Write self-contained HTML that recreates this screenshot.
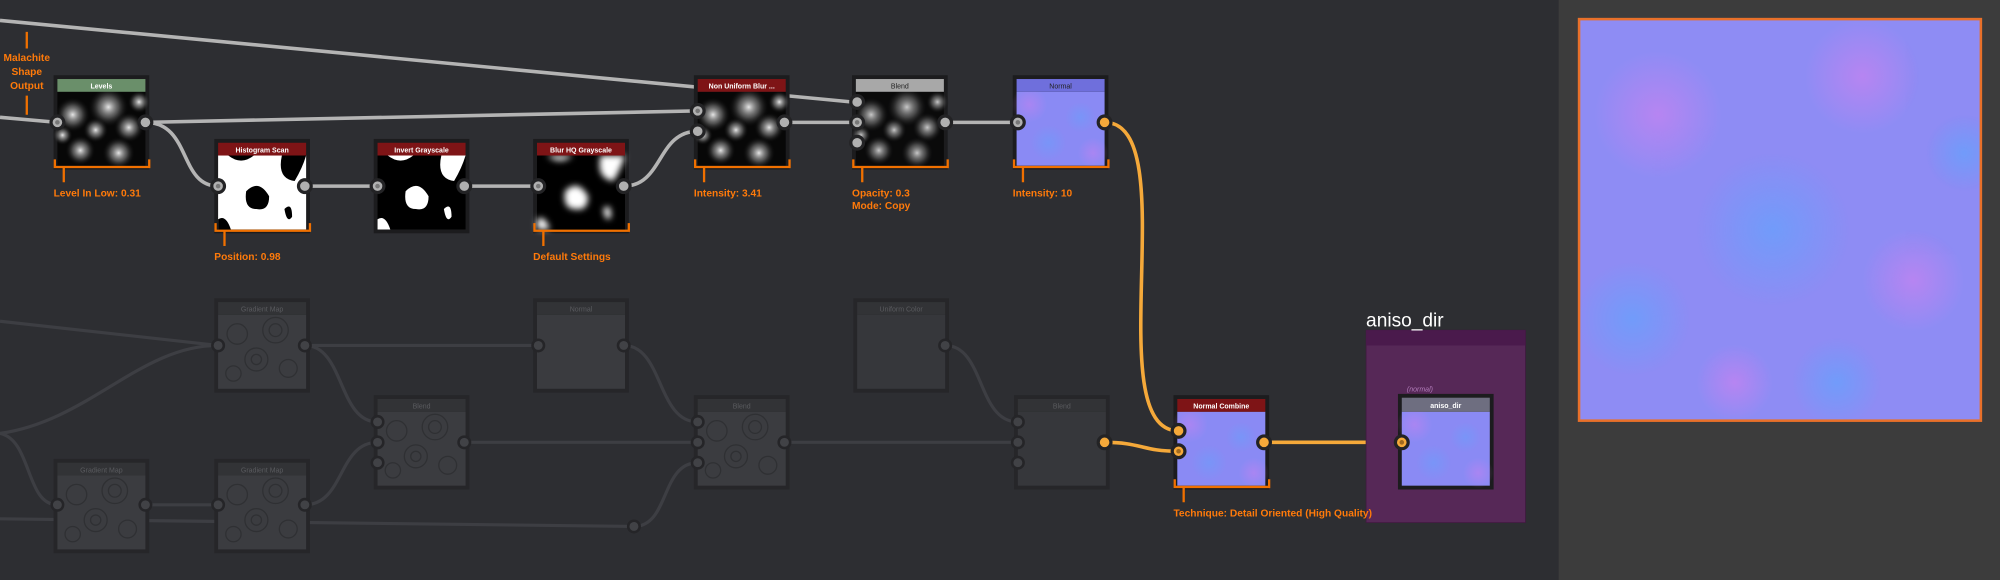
<!DOCTYPE html>
<html><head><meta charset="utf-8"><style>
html,body{margin:0;padding:0;background:#2d2e32;}
svg{display:block;}
text{font-family:"Liberation Sans","DejaVu Sans",sans-serif;}
</style></head><body>
<svg width="2000" height="580" viewBox="0 0 1568 455" preserveAspectRatio="none" xmlns="http://www.w3.org/2000/svg">
<defs>
<radialGradient id="wg"><stop offset="0" stop-color="#fff" stop-opacity="0.9"/><stop offset="0.5" stop-color="#999" stop-opacity="0.5"/><stop offset="1" stop-color="#000" stop-opacity="0"/></radialGradient>
<radialGradient id="pk"><stop offset="0" stop-color="#d77ff0"/><stop offset="1" stop-color="#d77ff0" stop-opacity="0"/></radialGradient>
<radialGradient id="bl"><stop offset="0" stop-color="#5aa8ff"/><stop offset="1" stop-color="#5aa8ff" stop-opacity="0"/></radialGradient>
<clipPath id="pc"><rect x="1238" y="15" width="315" height="315"/></clipPath>
<filter id="blur2"><feGaussianBlur stdDeviation="2.5"/></filter>
<g id="blobs">
<rect width="69" height="58" fill="#070707"/>
<circle cx="12" cy="18" r="14" fill="url(#wg)"/><circle cx="40" cy="12" r="16" fill="url(#wg)"/>
<circle cx="56" cy="28" r="12" fill="url(#wg)"/><circle cx="30" cy="30" r="10" fill="url(#wg)"/>
<circle cx="18" cy="46" r="12" fill="url(#wg)"/><circle cx="48" cy="48" r="13" fill="url(#wg)"/>
<circle cx="64" cy="8" r="9" fill="url(#wg)"/><circle cx="4" cy="34" r="8" fill="url(#wg)"/>
</g>
<g id="hist">
<rect width="69" height="58" fill="#fff"/>
<path d="M8,0 q10,8 20,0z M50,0 q-4,18 10,20 q6,-10 9,-20z M22,28 q10,-10 18,4 q0,12 -10,10 q-10,0 -8,-14z M52,42 q6,-6 6,6 q-4,6 -6,-6z M0,50 q6,-4 10,8 h-10z" fill="#000"/>
</g>
<g id="inv">
<rect width="69" height="58" fill="#000"/>
<path d="M8,0 q10,8 20,0z M50,0 q-4,18 10,20 q6,-10 9,-20z M22,28 q10,-10 18,4 q0,12 -10,10 q-10,0 -8,-14z M52,42 q6,-6 6,6 q-4,6 -6,-6z M0,50 q6,-4 10,8 h-10z" fill="#fff"/>
</g>
<g id="blurhq">
<rect width="69" height="58" fill="#000"/>
<path d="M8,0 q10,8 20,0z M50,0 q-4,18 10,20 q6,-10 9,-20z M22,28 q10,-10 18,4 q0,12 -10,10 q-10,0 -8,-14z M52,42 q6,-6 6,6 q-4,6 -6,-6z M0,50 q6,-4 10,8 h-10z" fill="#fff" filter="url(#blur2)"/>
</g>
<g id="nrm">
<rect width="69" height="58" fill="#8a8af4"/>
<circle cx="10" cy="10" r="14" fill="url(#pk)" opacity="0.4"/><circle cx="50" cy="20" r="12" fill="url(#bl)" opacity="0.35"/>
<circle cx="25" cy="40" r="14" fill="url(#bl)" opacity="0.35"/><circle cx="60" cy="48" r="12" fill="url(#pk)" opacity="0.4"/>
</g>
<g id="grt">
<rect width="69" height="58" fill="#3b3c40"/>
<g fill="none" stroke="#2f3033" stroke-width="1">
<circle cx="15" cy="15" r="8"/><circle cx="45" cy="12" r="10"/><circle cx="30" cy="35" r="9"/><circle cx="55" cy="42" r="7"/><circle cx="12" cy="46" r="6"/><circle cx="45" cy="12" r="5"/><circle cx="30" cy="35" r="4"/>
</g>
</g>
</defs>

<rect width="1568" height="455" fill="#2d2e32"/>
<rect x="1222" y="0" width="346" height="455" fill="#3c3c3c"/>

<g fill="none" stroke="#3d3e43" stroke-width="2.5">
<path d="M0,252 L171,271"/>
<path d="M239,271 L422,271"/>
<path d="M0,340 C70,330 110,271 171,271"/>
<path d="M0,340 C25,345 20,396 45,396"/>
<path d="M0,407 L497,413"/>
<path d="M114,396 L171,396"/>
<path d="M239,271 C270,271 265,331 296,331"/>
<path d="M239,396 C270,396 265,347 296,347"/>
<path d="M364,347 L547,347"/>
<path d="M489,271 C520,271 515,331 547,331"/>
<path d="M497,413 C525,413 518,363 547,363"/>
<path d="M615,347 L798,347"/>
<path d="M741,271 C772,271 766,331 798,331"/>
</g>

<g fill="none" stroke="#b4b4b4" stroke-width="2.8">
<path d="M0,16 L668,80"/>
<path d="M0,92 L45,96"/>
<path d="M114,96 L547,87"/>
<path d="M114,96 C150,96 140,146 171,146"/>
<path d="M239,146 L296,146"/>
<path d="M364,146 L422,146"/>
<path d="M489,146 C520,146 515,103 547,103"/>
<path d="M615,96 L672,96"/>
<path d="M741,96 L798,96"/>
</g>
<g fill="none" stroke="#f5a93a" stroke-width="2.8">
<path d="M866,96 C930,96 860,338 924,338"/>
<path d="M866,347 C895,347 895,354 924,354"/>
<path d="M991,347 L1099,347"/>
</g>

<rect x="1071" y="259" width="125" height="151" fill="#562857" stroke="#3d1a3e" stroke-width="0.6"/>
<rect x="1071" y="259" width="125" height="12" fill="#4a1a4c"/>
<text x="1071" y="256" font-size="15" fill="#fff" font-family="DejaVu Sans,sans-serif">aniso_dir</text>
<text x="1103" y="307" font-size="5.5" fill="#b07ab8" font-style="italic">(normal)</text>

<g>
<rect x="42" y="59" width="75" height="74" fill="#1c1c1e"/>
<use href="#blobs" x="45" y="72"/><rect x="45" y="62" width="69" height="10" fill="#6a8f6a"/>
<text x="79.5" y="69.5" font-size="5.5" fill="#fff" text-anchor="middle" font-weight="bold">Levels</text>

<rect x="168" y="109" width="75" height="74" fill="#1c1c1e"/>
<use href="#hist" x="171" y="122"/><rect x="171" y="112" width="69" height="10" fill="#7e1416"/>
<text x="205.5" y="119.5" font-size="5.5" fill="#fff" text-anchor="middle" font-weight="bold">Histogram Scan</text>

<rect x="293" y="109" width="75" height="74" fill="#1c1c1e"/>
<use href="#inv" x="296" y="122"/><rect x="296" y="112" width="69" height="10" fill="#7e1416"/>
<text x="330.5" y="119.5" font-size="5.5" fill="#fff" text-anchor="middle" font-weight="bold">Invert Grayscale</text>

<rect x="418" y="109" width="75" height="74" fill="#1c1c1e"/>
<use href="#blurhq" x="421" y="122"/><rect x="421" y="112" width="69" height="10" fill="#7e1416"/>
<text x="455.5" y="119.5" font-size="5.5" fill="#fff" text-anchor="middle" font-weight="bold">Blur HQ Grayscale</text>

<rect x="544" y="59" width="75" height="74" fill="#1c1c1e"/>
<use href="#blobs" x="547" y="72"/><rect x="547" y="62" width="69" height="10" fill="#7e1416"/>
<text x="581.5" y="69.5" font-size="5.5" fill="#fff" text-anchor="middle" font-weight="bold">Non Uniform  Blur ...</text>

<rect x="668" y="59" width="75" height="74" fill="#1c1c1e"/>
<use href="#blobs" x="671" y="72" opacity="0.85"/><rect x="671" y="62" width="69" height="10" fill="#a8a8a8"/>
<text x="705.5" y="69.5" font-size="5.5" fill="#222" text-anchor="middle">Blend</text>

<rect x="794" y="59" width="75" height="74" fill="#1c1c1e"/>
<use href="#nrm" x="797" y="72"/><rect x="797" y="62" width="69" height="10" fill="#6f6fdc"/>
<text x="831.5" y="69.5" font-size="5.5" fill="#222" text-anchor="middle">Normal</text>

<rect x="920" y="310" width="75" height="74" fill="#1c1c1e"/>
<use href="#nrm" x="923" y="323"/><rect x="923" y="313" width="69" height="10" fill="#7e1416"/>
<text x="957.5" y="320.5" font-size="5.5" fill="#fff" text-anchor="middle" font-weight="bold">Normal Combine</text>

<rect x="1096" y="309" width="75" height="75" fill="#1c1c1e"/>
<use href="#nrm" x="1099" y="323"/><rect x="1099" y="312" width="69" height="11" fill="#6e6e80"/>
<text x="1133.5" y="320" font-size="5.5" fill="#fff" text-anchor="middle" font-weight="bold">aniso_dir</text>
</g>

<g>
<rect x="168" y="234" width="75" height="74" fill="#262629"/><use href="#grt" x="171" y="247"/><rect x="171" y="237" width="69" height="10" fill="#323336"/>
<text x="205.5" y="244.5" font-size="5.5" fill="#5a5b5f" text-anchor="middle">Gradient Map</text>
<rect x="418" y="234" width="75" height="74" fill="#262629"/><rect x="421" y="247" width="69" height="58" fill="#3a3b3f"/><rect x="421" y="237" width="69" height="10" fill="#323336"/>
<text x="455.5" y="244.5" font-size="5.5" fill="#5a5b5f" text-anchor="middle">Normal</text>
<rect x="669" y="234" width="75" height="74" fill="#262629"/><rect x="672" y="247" width="69" height="58" fill="#36373b"/><rect x="672" y="237" width="69" height="10" fill="#323336"/>
<text x="706.5" y="244.5" font-size="5.5" fill="#5a5b5f" text-anchor="middle">Uniform Color</text>
<rect x="293" y="310" width="75" height="74" fill="#262629"/><use href="#grt" x="296" y="323"/><rect x="296" y="313" width="69" height="10" fill="#323336"/>
<text x="330.5" y="320.5" font-size="5.5" fill="#5a5b5f" text-anchor="middle">Blend</text>
<rect x="544" y="310" width="75" height="74" fill="#262629"/><use href="#grt" x="547" y="323"/><rect x="547" y="313" width="69" height="10" fill="#323336"/>
<text x="581.5" y="320.5" font-size="5.5" fill="#5a5b5f" text-anchor="middle">Blend</text>
<rect x="795" y="310" width="75" height="74" fill="#262629"/><rect x="798" y="323" width="69" height="58" fill="#36373b"/><rect x="798" y="313" width="69" height="10" fill="#323336"/>
<text x="832.5" y="320.5" font-size="5.5" fill="#5a5b5f" text-anchor="middle">Blend</text>
<rect x="42" y="360" width="75" height="74" fill="#262629"/><use href="#grt" x="45" y="373"/><rect x="45" y="363" width="69" height="10" fill="#323336"/>
<text x="79.5" y="370.5" font-size="5.5" fill="#5a5b5f" text-anchor="middle">Gradient Map</text>
<rect x="168" y="360" width="75" height="74" fill="#262629"/><use href="#grt" x="171" y="373"/><rect x="171" y="363" width="69" height="10" fill="#323336"/>
<text x="205.5" y="370.5" font-size="5.5" fill="#5a5b5f" text-anchor="middle">Gradient Map</text>
</g>

<g fill="#b0b0b0" stroke="#232325" stroke-width="2.5">
<circle cx="45" cy="96" r="5"/><circle cx="114" cy="96" r="5"/>
<circle cx="171" cy="146" r="5"/><circle cx="239" cy="146" r="5"/>
<circle cx="296" cy="146" r="5"/><circle cx="364" cy="146" r="5"/>
<circle cx="422" cy="146" r="5"/><circle cx="489" cy="146" r="5"/>
<circle cx="547" cy="87" r="5"/><circle cx="547" cy="103" r="5"/><circle cx="615" cy="96" r="5"/>
<circle cx="672" cy="80" r="5"/><circle cx="672" cy="96" r="5"/><circle cx="672" cy="112" r="5"/><circle cx="741" cy="96" r="5"/>
<circle cx="798" cy="96" r="5"/>
</g>
<g fill="#f5a93a" stroke="#232325" stroke-width="2.5">
<circle cx="866" cy="96" r="5"/><circle cx="924" cy="338" r="5"/><circle cx="924" cy="354" r="5"/><circle cx="991" cy="347" r="5"/><circle cx="1099" cy="347" r="5"/><circle cx="866" cy="347" r="5"/>
</g>
<g fill="#777">
<circle cx="45" cy="96" r="1.8"/><circle cx="171" cy="146" r="1.8"/><circle cx="296" cy="146" r="1.8"/><circle cx="422" cy="146" r="1.8"/><circle cx="547" cy="87" r="1.8"/><circle cx="672" cy="96" r="1.8"/><circle cx="798" cy="96" r="1.8"/>
</g>
<g fill="#a06a20"><circle cx="924" cy="354" r="1.8"/><circle cx="1099" cy="347" r="1.8"/></g>
<g fill="#414246" stroke="#252528" stroke-width="2">
<circle cx="171" cy="271" r="4.5"/><circle cx="239" cy="271" r="4.5"/>
<circle cx="422" cy="271" r="4.5"/><circle cx="489" cy="271" r="4.5"/>
<circle cx="741" cy="271" r="4.5"/>
<circle cx="296" cy="331" r="4.5"/><circle cx="296" cy="347" r="4.5"/><circle cx="296" cy="363" r="4.5"/><circle cx="364" cy="347" r="4.5"/>
<circle cx="547" cy="331" r="4.5"/><circle cx="547" cy="347" r="4.5"/><circle cx="547" cy="363" r="4.5"/><circle cx="615" cy="347" r="4.5"/>
<circle cx="798" cy="331" r="4.5"/><circle cx="798" cy="347" r="4.5"/><circle cx="798" cy="363" r="4.5"/>
<circle cx="45" cy="396" r="4.5"/><circle cx="114" cy="396" r="4.5"/>
<circle cx="171" cy="396" r="4.5"/><circle cx="239" cy="396" r="4.5"/>
<circle cx="497" cy="413" r="4.5"/>
</g>

<g fill="none" stroke="#f07000" stroke-width="1.8">
<path d="M43,125 V131 H117 V125 M50,131 V143"/>
<path d="M169,175 V181 H243 V175 M176,181 V193"/>
<path d="M419,175 V181 H493 V175 M426,181 V193"/>
<path d="M545,125 V131 H619 V125 M552,131 V143"/>
<path d="M669,125 V131 H743 V125 M676,131 V143"/>
<path d="M795,125 V131 H869 V125 M802,131 V143"/>
<path d="M921,376 V382 H995 V376 M928,382 V394"/>
<path d="M21,25 V38 M21,75 V90"/>
</g>
<g fill="#ff7a0a" font-size="8" font-weight="bold">
<text x="42" y="154">Level In Low: 0.31</text>
<text x="168" y="204">Position: 0.98</text>
<text x="418" y="204">Default Settings</text>
<text x="544" y="154">Intensity: 3.41</text>
<text x="668" y="154">Opacity: 0.3</text>
<text x="668" y="164">Mode: Copy</text>
<text x="794" y="154">Intensity: 10</text>
<text x="920" y="405">Technique: Detail Oriented (High Quality)</text>
<text x="21" y="48" text-anchor="middle">Malachite</text>
<text x="21" y="59" text-anchor="middle">Shape</text>
<text x="21" y="70" text-anchor="middle">Output</text>
</g>

<rect x="1238" y="15" width="315" height="315" fill="#8e8cf4"/>
<g opacity="0.55" clip-path="url(#pc)">
<circle cx="1300" cy="90" r="50" fill="url(#pk)"/><circle cx="1460" cy="60" r="45" fill="url(#pk)"/>
<circle cx="1390" cy="180" r="60" fill="url(#bl)"/><circle cx="1280" cy="250" r="45" fill="url(#bl)"/>
<circle cx="1500" cy="220" r="40" fill="url(#pk)"/><circle cx="1440" cy="300" r="35" fill="url(#bl)"/>
<circle cx="1540" cy="120" r="30" fill="url(#bl)"/><circle cx="1360" cy="300" r="30" fill="url(#pk)"/>
</g>
<rect x="1238" y="15" width="315" height="315" fill="none" stroke="#e8702a" stroke-width="2"/>
</svg>
</body></html>
